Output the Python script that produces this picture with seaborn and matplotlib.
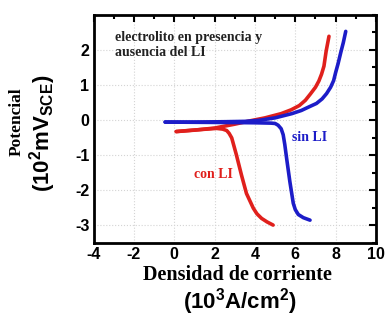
import matplotlib
matplotlib.use("Agg")
import matplotlib.pyplot as plt
import numpy as np
import pandas as pd
import seaborn as sns
from matplotlib.ticker import MultipleLocator

# valores (densidad de corriente, potencial)
con_li_anodica_x = [0.1, 1.0, 2.0, 3.0, 3.8, 4.5, 5.3, 5.8, 6.2, 6.5, 6.75, 7.0,
                    7.17, 7.3, 7.42, 7.53, 7.67]
con_li_anodica_y = [-0.33, -0.29, -0.23, -0.12, -0.02, 0.06, 0.18, 0.29, 0.41, 0.56,
                    0.74, 0.93, 1.11, 1.3, 1.53, 1.96, 2.38]
con_li_catodica_x = [0.1, 0.9, 2.1, 2.4, 2.6, 2.72, 2.85, 3.08, 3.33, 3.58, 3.92,
                     4.1, 4.33, 4.6, 4.9]
con_li_catodica_y = [-0.33, -0.29, -0.24, -0.26, -0.3, -0.38, -0.51, -0.99, -1.56,
                     -2.09, -2.51, -2.67, -2.8, -2.9, -2.99]

sin_li_anodica_x = [-0.45, 1.0, 2.5, 3.5, 4.2, 5.0, 5.83, 6.3, 6.67, 7.05, 7.33,
                    7.55, 7.75, 7.9, 8.0, 8.12, 8.25, 8.38, 8.5]
sin_li_anodica_y = [-0.06, -0.06, -0.05, -0.04, -0.01, 0.06, 0.18, 0.27, 0.37, 0.47,
                    0.6, 0.75, 0.93, 1.12, 1.35, 1.6, 1.91, 2.2, 2.52]
sin_li_catodica_x = [-0.45, 2.0, 4.0, 4.8, 5.0, 5.15, 5.3, 5.4, 5.48, 5.57, 5.73,
                     5.9, 6.0, 6.15, 6.4, 6.73]
sin_li_catodica_y = [-0.06, -0.07, -0.08, -0.09, -0.1, -0.15, -0.25, -0.42, -0.7,
                     -1.09, -1.75, -2.37, -2.55, -2.69, -2.78, -2.85]

x_ticks = [-4, -2, 0, 2, 4, 6, 8, 10]
y_ticks = [-3, -2, -1, 0, 1, 2]

rojo = "#e0201c"
azul = "#1c1cc8"

sns.set_style("white")
plt.rcParams["font.family"] = ["Liberation Sans", "DejaVu Sans"]
plt.rcParams["axes.unicode_minus"] = False
plt.rcParams["text.color"] = "black"
plt.rcParams["xtick.color"] = "black"
plt.rcParams["ytick.color"] = "black"
plt.rcParams["mathtext.fontset"] = "custom"
plt.rcParams["mathtext.rm"] = "Liberation Sans:bold"
plt.rcParams["mathtext.bf"] = "Liberation Sans:bold"
plt.rcParams["mathtext.it"] = "Liberation Sans:bold"

fig = plt.figure(figsize=(3.85, 3.23), dpi=100)
W, H = 385, 323
ax = fig.add_axes([93.5 / W, 1 - 243 / H, (376 - 93.5) / W, (243 - 14.5) / H])

ramas = [
    (con_li_anodica_x, con_li_anodica_y, rojo),
    (con_li_catodica_x, con_li_catodica_y, rojo),
    (sin_li_anodica_x, sin_li_anodica_y, azul),
    (sin_li_catodica_x, sin_li_catodica_y, azul),
]
for xs, ys, color in ramas:
    df = pd.DataFrame({"x": xs, "y": ys})
    sns.lineplot(data=df, x="x", y="y", sort=False, estimator=None,
                 color=color, lw=2.6, ax=ax)

ax.set_xlim(-4, 10)
ax.set_ylim(-3.5, 3)
ax.set_xticks(x_ticks)
ax.set_yticks(y_ticks)
ax.xaxis.set_minor_locator(MultipleLocator(1))
ax.yaxis.set_minor_locator(MultipleLocator(0.5))
ax.tick_params(which="both", direction="in", top=True, right=True, width=1.5,
               labelsize=11.5, pad=3, colors="black")
ax.tick_params(which="major", length=5)
ax.tick_params(which="minor", length=3)
for lab in ax.get_xticklabels() + ax.get_yticklabels():
    lab.set_fontweight("bold")
for s in ax.spines.values():
    s.set_linewidth(2)
    s.set_color("black")
ax.grid(True, which="major", color="#d4d4d4", ls=":", lw=0.8)
ax.set_xlabel("")
ax.set_ylabel("")

serif = ["Liberation Serif", "DejaVu Serif"]
ax.text(-2.94, 2.52, "electrolito en presencia y\nausencia del LI", family=serif,
        fontweight="bold", fontsize=10, color="#222222", va="top", ha="left",
        linespacing=1.15)
ax.text(5.82, -0.49, "sin LI", family=serif, fontweight="bold", fontsize=10,
        color=azul, va="center", ha="left")
ax.text(1.0, -1.55, "con LI", family=serif, fontweight="bold", fontsize=10,
        color=rojo, va="center", ha="left")

fig.text(237 / W, 1 - 275 / H, "Densidad de corriente", family=serif,
         fontweight="bold", fontsize=14.5, ha="center", va="center")
fig.text(240 / W, 1 - 302 / H, r"$\mathbf{(10^3A/cm^2)}$", fontsize=16,
         ha="center", va="center")
fig.text(17 / W, 1 - 122 / H, "Potencial", family=serif, fontweight="bold",
         fontsize=12.5, rotation=90, ha="center", va="center")
fig.text(43 / W, 1 - 133 / H, r"$\mathbf{(10^2mV_{SCE})}$", fontsize=16,
         rotation=90, ha="center", va="center")

fig.savefig("out.png", dpi=100)
